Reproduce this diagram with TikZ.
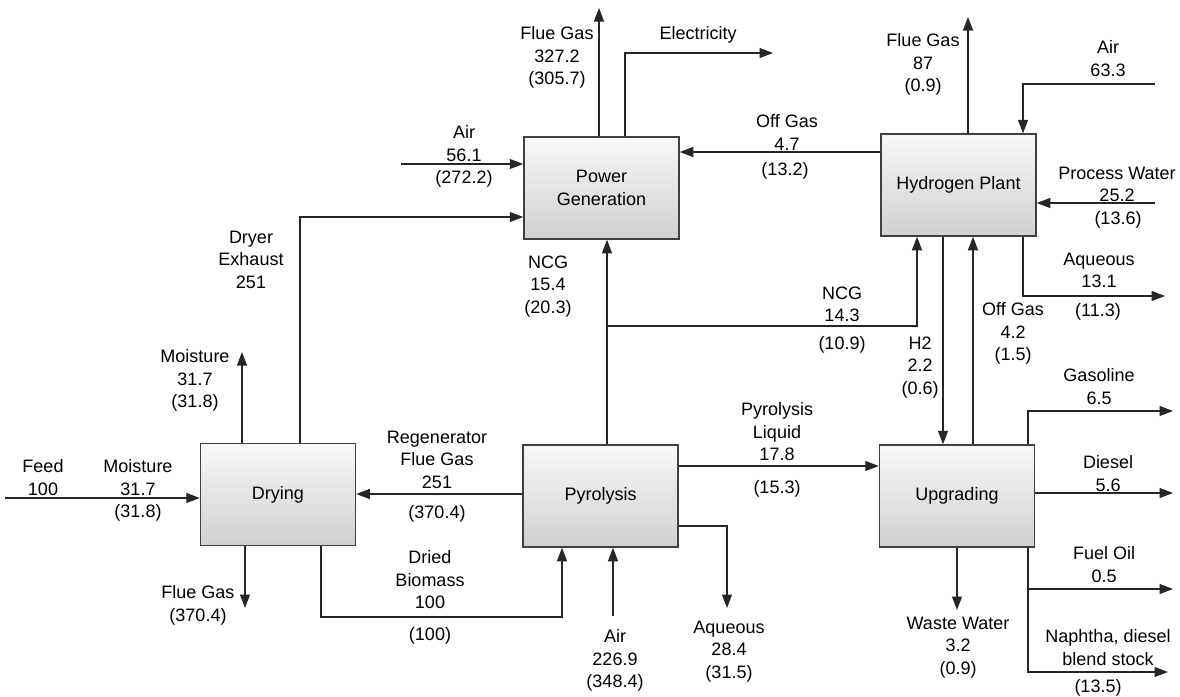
\documentclass[tikz,border=0pt]{standalone}
\usepackage{fontspec}
\setmainfont{Liberation Sans}
\usetikzlibrary{arrows.meta,calc}
\definecolor{boxtop}{HTML}{F8F8F8}
\definecolor{boxbot}{HTML}{D0D0D0}
\definecolor{boxedge}{HTML}{404040}
\definecolor{linec}{HTML}{262626}
\begin{document}
\begin{tikzpicture}[x=1pt,y=-1pt,
  box/.style={draw=boxedge,line width=1.5pt,top color=boxtop,bottom color=boxbot,minimum width=155pt,minimum height=102pt,inner sep=0pt,align=center,font=\fontsize{18}{22.5}\selectfont},
  lbl/.style={align=center,anchor=north,inner sep=0pt,font=\fontsize{18}{22.5}\selectfont},
  flow/.style={draw=linec,line width=1.1pt,-{Triangle[length=13.5pt,width=10pt]}}]
\fill[white] (0,0) rectangle (1180,696);
\useasboundingbox (0,0) rectangle (1180,696);

% boxes
\node[box] (drying) at (278,494.5) {Drying};
\node[box] (pyro) at (600.5,496) {Pyrolysis};
\node[box] (upg) at (957,496) {Upgrading};
\node[box] (power) at (601.5,188) {Power\\Generation};
\node[box] (hyd) at (958.5,185) {Hydrogen Plant};

% connectors
\coordinate (feedS) at (5,498);
\draw[flow] (feedS) -- (feedS -| drying.west);

\coordinate (moistT) at (242,352);
\draw[flow] (drying.north -| moistT) -- (moistT);

\coordinate (dexX) at (300,217);
\draw[flow] (drying.north -| dexX) -- (dexX) -- (dexX -| power.west);

\coordinate (dfgT) at (245,608);
\draw[flow] (drying.south -| dfgT) -- (dfgT);

\coordinate (dbA) at (321,617);
\coordinate (dbB) at (562,617);
\draw[flow] (drying.south -| dbA) -- (dbA) -- (dbB) -- (dbB |- pyro.south);

\coordinate (regY) at (600,494);
\draw[flow] (pyro.west |- regY) -- (drying.east |- regY);

\coordinate (pairS) at (613,616);
\draw[flow] (pairS) -- (pairS |- pyro.south);

\coordinate (paqA) at (727,526);
\coordinate (paqT) at (727,608);
\draw[flow] (pyro.east |- paqA) -- (paqA) -- (paqT);

\coordinate (ncgJ) at (607,326);
\coordinate (ncgK) at (917,326);
\draw[flow] (pyro.north -| ncgJ) -- (power.south -| ncgJ);
\draw[flow] (ncgJ) -- (ncgK) -- (hyd.south -| ncgK);

\coordinate (plY) at (700,466);
\draw[flow] (pyro.east |- plY) -- (upg.west |- plY);

\coordinate (pairA) at (401,164);
\draw[flow] (pairA) -- (pairA -| power.west);

\coordinate (pfgT) at (599,8);
\draw[flow] (power.north -| pfgT) -- (pfgT);

\coordinate (elA) at (625,53);
\coordinate (elT) at (773,53);
\draw[flow] (power.north -| elA) -- (elA) -- (elT);

\coordinate (ogA) at (800,152);
\draw[flow] (hyd.west |- ogA) -- (power.east |- ogA);

\coordinate (hfgT) at (968,17);
\draw[flow] (hyd.north -| hfgT) -- (hfgT);

\coordinate (hairS) at (1155,84);
\coordinate (hairB) at (1023,84);
\draw[flow] (hairS) -- (hairB) -- (hairB |- hyd.north);

\coordinate (pwS) at (1155,203);
\draw[flow] (pwS) -- (pwS -| hyd.east);

\coordinate (haqB) at (1023,296);
\coordinate (haqT) at (1165,296);
\draw[flow] (hyd.south -| haqB) -- (haqB) -- (haqT);

\coordinate (htwoX) at (943,400);
\draw[flow] (hyd.south -| htwoX) -- (upg.north -| htwoX);

\coordinate (ogB) at (973,400);
\draw[flow] (upg.north -| ogB) -- (hyd.south -| ogB);

\coordinate (gasB) at (1028,411);
\coordinate (gasT) at (1173,411);
\draw[flow] (upg.north -| gasB) -- (gasB) -- (gasT);

\coordinate (dslT) at (1173,493);
\draw[flow] (upg.east |- dslT) -- (dslT);

\coordinate (foB) at (1028,589);
\coordinate (foT) at (1173,589);
\draw[flow] (upg.south -| foB) -- (foB) -- (foT);

\coordinate (npB) at (1028,672);
\coordinate (npT) at (1168,672);
\draw[flow] (upg.south -| npB) -- (npB) -- (npT);

\coordinate (wwT) at (957,610);
\draw[flow] (upg.south -| wwT) -- (wwT);

% labels
\node[lbl] (lfeed) at (43,459.5) {Feed\\100};
\node[lbl] (lmoistin) at (138,459.5) {Moisture\\31.7\\(31.8)};
\node[lbl] (lmoistup) at (195,349.5) {Moisture\\31.7\\(31.8)};
\node[lbl] (ldfg) at (198,585.5) {Flue Gas\\(370.4)};
\node[lbl] (ldex) at (251,230.5) {Dryer\\Exhaust\\251};
\node[lbl] (lreg) at (437,430.5) {Regenerator\\Flue Gas\\251};
\node[lbl] (lregb) at (437,505.5) {(370.4)};
\node[lbl] (ldb) at (430,550.5) {Dried\\Biomass\\100};
\node[lbl] (ldbb) at (430,627.5) {(100)};
\node[lbl] (lpair) at (615,629.5) {Air\\226.9\\(348.4)};
\node[lbl] (lpaq) at (729,620.5) {Aqueous\\28.4\\(31.5)};
\node[lbl] (lpl) at (777,402.5) {Pyrolysis\\Liquid\\17.8};
\node[lbl] (lplb) at (777,480.5) {(15.3)};
\node[lbl] (lncga) at (548,255.5) {NCG\\15.4\\(20.3)};
\node[lbl] (lpowair) at (464,125.5) {Air\\56.1\\(272.2)};
\node[lbl] (lpfg) at (557,26.5) {Flue Gas\\327.2\\(305.7)};
\node[lbl] (lel) at (698,26.5) {Electricity};
\node[lbl] (loga) at (787,114.5) {Off Gas\\4.7};
\node[lbl] (logab) at (785,162.5) {(13.2)};
\node[lbl] (lhfg) at (923,33.5) {Flue Gas\\87\\(0.9)};
\node[lbl] (lhair) at (1108,40.5) {Air\\63.3};
\node[lbl] (lpw) at (1117,166.5) {Process Water\\25.2};
\node[lbl] (lpwb) at (1118,211.5) {(13.6)};
\node[lbl] (lhaq) at (1099,252.5) {Aqueous\\13.1};
\node[lbl] (lhaqb) at (1098,303.5) {(11.3)};
\node[lbl] (lncgb) at (842,286.5) {NCG\\14.3};
\node[lbl] (lncgbb) at (842,336.5) {(10.9)};
\node[lbl] (lhtwo) at (920,336.5) {H2\\2.2\\(0.6)};
\node[lbl] (logb) at (1013,302.5) {Off Gas\\4.2\\(1.5)};
\node[lbl] (lgas) at (1099,368.5) {Gasoline\\6.5};
\node[lbl] (ldsl) at (1108,455.5) {Diesel\\5.6};
\node[lbl] (lfo) at (1104,546.5) {Fuel Oil\\0.5};
\node[lbl] (lnp) at (1108,629.5) {Naphtha, diesel\\blend stock};
\node[lbl] (lnpb) at (1098,679.5) {(13.5)};
\node[lbl] (lww) at (958,616.5) {Waste Water\\3.2\\(0.9)};
\end{tikzpicture}
\end{document}
